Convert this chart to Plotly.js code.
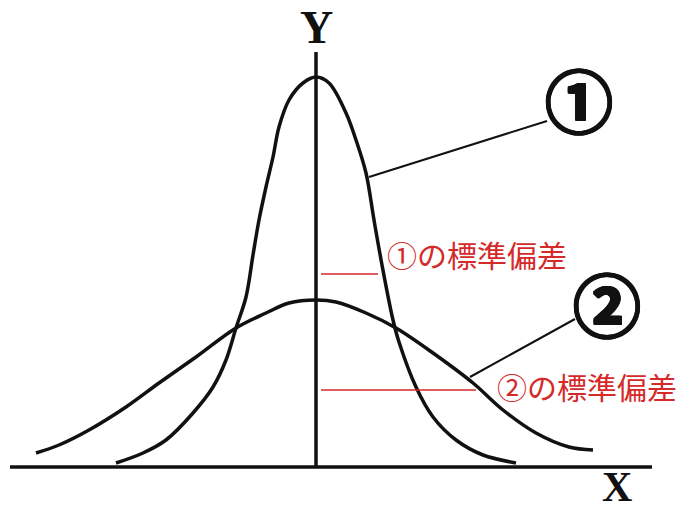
<!DOCTYPE html>
<html>
<head>
<meta charset="utf-8">
<script src="https://cdn.plot.ly/plotly-3.0.1.min.js"></script>
<style>html,body{margin:0;padding:0;background:#fff;}#chart{width:695px;height:517px;}</style>
</head>
<body>
<div id="chart"></div>
<script>
// Curve ① (narrow normal curve)
const curve1X = [-2.00,-1.73,-1.50,-1.23,-1.03,-0.90,-0.80,-0.70,-0.63,-0.57,-0.50,-0.43,-0.37,-0.27,-0.13,0,0.13,0.30,0.40,0.50,0.58,0.66,0.77,0.83,1.00,1.17,1.40,1.67,2.00];
const curve1Y = [0.04,0.14,0.27,0.54,0.80,1.07,1.39,1.70,2.12,2.47,2.80,3.10,3.40,3.67,3.84,3.90,3.84,3.54,3.27,2.94,2.47,2.02,1.47,1.25,0.80,0.50,0.27,0.12,0.04];
// Curve ② (wide normal curve)
const curve2X = [-2.80,-2.57,-2.27,-1.90,-1.57,-1.20,-0.80,-0.50,-0.27,0,0.20,0.50,0.80,1.17,1.57,1.87,2.20,2.53,2.77];
const curve2Y = [0.14,0.22,0.37,0.60,0.84,1.10,1.39,1.54,1.64,1.67,1.65,1.54,1.39,1.14,0.84,0.57,0.34,0.20,0.17];
// Standard deviation marker levels
const sd1Level = 1.93, sd1Len = [0.05, 0.62];
const sd2Level = 0.77, sd2Len = [0.05, 1.60];
// Labels
const labels = {sd1: "①の標準偏差", sd2: "②の標準偏差", c1: "①", c2: "②", x: "X", y: "Y"};

const black = "#111111", red = "#d42a2a";
const traces = [
  {x: curve1X, y: curve1Y, mode: "lines", line: {color: black, width: 3.5, shape: "spline", smoothing: 1}, hoverinfo: "skip"},
  {x: curve2X, y: curve2Y, mode: "lines", line: {color: black, width: 3.5, shape: "spline", smoothing: 1}, hoverinfo: "skip"}
];
const c1 = [2.63, 3.69], c2 = [2.91, 1.65];
const shapes = [
  {type: "line", x0: -3.06, x1: 3.36, y0: 0, y1: 0, line: {color: black, width: 3.5}},
  {type: "line", x0: 0, x1: 0, y0: 0, y1: 4.15, line: {color: black, width: 3.5}},
  {type: "line", x0: sd1Len[0], x1: sd1Len[1], y0: sd1Level, y1: sd1Level, line: {color: red, width: 1.5}},
  {type: "line", x0: sd2Len[0], x1: sd2Len[1], y0: sd2Level, y1: sd2Level, line: {color: red, width: 1.5}},
  {type: "line", x0: 0.53, y0: 2.90, x1: 2.31, y1: 3.46, line: {color: black, width: 2}},
  {type: "line", x0: 1.54, y0: 0.90, x1: 2.59, y1: 1.48, line: {color: black, width: 2}}
];
const jp = "Noto Sans CJK JP, sans-serif";
const thick = "1px 0 0 #111, -1px 0 0 #111, 0 1px 0 #111, 0 -1px 0 #111, 1px 1px 0 #111, -1px -1px 0 #111, 1px -1px 0 #111, -1px 1px 0 #111";
const annotations = [
  {x: 0, y: 4.40, text: labels.y, showarrow: false, font: {family: "Liberation Serif, serif", size: 46, color: black, weight: "bold"}},
  {x: 3.01, y: -0.20, yanchor: "middle", text: labels.x, showarrow: false, borderpad: 0, font: {family: "Liberation Serif, serif", size: 42, color: black, weight: "bold"}},
  {x: 0.69, y: 2.13, xanchor: "left", text: labels.sd1, showarrow: false, font: {family: jp, size: 30, color: red}},
  {x: 1.79, y: 0.81, xanchor: "left", text: labels.sd2, showarrow: false, font: {family: jp, size: 30, color: red}},
  {x: c1[0], y: c1[1], text: labels.c1, showarrow: false, font: {family: jp, size: 68, color: black, weight: "bold", shadow: thick}},
  {x: c2[0], y: c2[1], text: labels.c2, showarrow: false, font: {family: jp, size: 68, color: black, weight: "bold", shadow: thick}}
];
const layout = {
  width: 695, height: 517,
  margin: {l: 0, r: 0, t: 0, b: 0},
  paper_bgcolor: "#ffffff", plot_bgcolor: "#ffffff",
  showlegend: false,
  xaxis: {range: [-3.16, 3.79], visible: false, fixedrange: true},
  yaxis: {range: [-0.50, 4.67], visible: false, fixedrange: true},
  shapes: shapes, annotations: annotations
};
Plotly.newPlot("chart", traces, layout, {staticPlot: true, displayModeBar: false});
</script>
</body>
</html>
